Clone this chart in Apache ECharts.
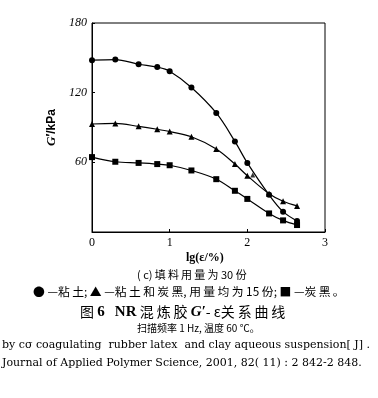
<!DOCTYPE html>
<html><head><meta charset="utf-8">
<script src="https://cdn.jsdelivr.net/npm/echarts@6/dist/echarts.min.js"></script>
<style>html,body{margin:0;padding:0;background:#fff}#c{width:378px;height:398px}</style>
</head><body><div id="c"></div>
<script>
const strain = [0, 0.3, 0.6, 0.84, 1.0, 1.28, 1.6, 1.84, 2.0, 2.28, 2.46, 2.64];
const clay = [148, 148.5, 144.5, 142, 138.5, 124.5, 102.5, 78, 59.5, 32, 17.5, 9.5];
const clayBlack = [93, 93.5, 91, 88.5, 86.5, 82, 71.5, 58.5, 48.5, 33, 26.5, 22.5];
const carbonBlack = [64.5, 60.5, 59.5, 58.5, 57.5, 53, 45.5, 35.5, 28.5, 16, 10, 6];
const strayX = [2.07];
const strayY = [49];
const xTicks = [0, 1, 2, 3];
const yTicks = [60, 120, 180];

const pair = (xs, ys) => xs.map((x, i) => [x, ys[i]]);
const serif = '"Liberation Serif", "DejaVu Serif", serif';
const wideSerif = '"DejaVu Serif", serif';
const cjk = '"Noto Sans CJK SC", sans-serif';
const T = '\u2009';

const chart = echarts.init(document.getElementById('c'), null, {renderer: 'canvas'});
const lineSeries = (data, symbol, size) => ({
  type: 'line', data, smooth: 0.35, symbol, symbolSize: size,
  lineStyle: {color: '#000', width: 1.2}, itemStyle: {color: '#000'},
  animation: false, z: 3
});
chart.setOption({
  backgroundColor: '#fff',
  animation: false,
  grid: {left: 92, right: 53, top: 23, bottom: 166, show: true, borderColor: '#000', borderWidth: 1},
  xAxis: {
    type: 'value', min: 0, max: 3, interval: 1,
    axisLine: {lineStyle: {color: '#000', width: 1}},
    axisTick: {inside: true, length: 3, lineStyle: {color: '#000'}},
    axisLabel: {color: '#000', fontFamily: serif, fontSize: 12, margin: 5,
      formatter: v => xTicks.includes(v) ? String(v) : ''},
    splitLine: {show: false}
  },
  yAxis: {
    type: 'value', min: 0, max: 180, interval: 60,
    axisLine: {lineStyle: {color: '#000', width: 1}},
    axisTick: {inside: true, length: 3, lineStyle: {color: '#000'}},
    axisLabel: {color: '#000', fontFamily: serif, fontSize: 12, fontStyle: 'italic', margin: 5,
      formatter: v => yTicks.includes(v) ? String(v) : ''},
    splitLine: {show: false},
    name: "{i|G}′/kPa", nameLocation: 'middle', nameGap: 26, nameRotate: 90,
    nameTextStyle: {color: '#000', fontFamily: '"Liberation Sans", Arial, sans-serif', fontSize: 12, fontWeight: 'bold',
      rich: {i: {fontStyle: 'italic', fontFamily: serif, fontSize: 13, fontWeight: 'bold'}}}
  },
  series: [
    lineSeries(pair(strain, clay), 'circle', 6),
    lineSeries(pair(strain, clayBlack), 'triangle', 6),
    lineSeries(pair(strain, carbonBlack), 'rect', 6),
    {type: 'scatter', data: pair(strayX, strayY), symbol: 'triangle', symbolSize: 5, itemStyle: {color: '#000'}, z: 4}
  ],
  graphic: [
    {type: 'text', left: 186, top: 252, style: {text: 'lg(ε/%)', font: 'bold 12px ' + serif, fill: '#000'}},
    {type: 'text', left: 137, top: 269, style: {text: '( c)' + T + '填' + T + '料' + T + '用' + T + '量' + T + '为 30 份', font: '11px ' + cjk, fill: '#000'}},
    {type: 'text', left: 33, top: 286, style: {text: '● —粘' + T + '土; ▲ —粘' + T + '土' + T + '和' + T + '炭' + T + '黑, 用' + T + '量' + T + '均' + T + '为 15 份; ■ —炭' + T + '黑' + T + '。', font: '11.8px ' + cjk, fill: '#000'}},
    {type: 'text', left: 80, top: 303, style: {
      text: '{c|图} {b|6}   {s|NR} {c|混' + T + '炼' + T + '胶} {g|G′}{c|- ε关' + T + '系' + T + '曲' + T + '线}',
      rich: {
        b: {fontFamily: serif, fontSize: 15, fontWeight: 'bold', fill: '#000', lineHeight: 18, height: 18, verticalAlign: 'bottom'},
        s: {fontFamily: serif, fontSize: 15, fontWeight: 'bold', fill: '#000', lineHeight: 18, height: 18, verticalAlign: 'bottom'},
        c: {fontFamily: cjk, fontSize: 14, fill: '#000', lineHeight: 18, height: 18, verticalAlign: 'bottom'},
        g: {fontFamily: serif, fontSize: 15, fontWeight: 'bold', fontStyle: 'italic', fill: '#000', lineHeight: 18, height: 18, verticalAlign: 'bottom'}
      }}},
    {type: 'text', left: 137, top: 323, style: {text: '扫描频率 1 Hz, 温度 60 ℃。', font: '10px ' + cjk, fill: '#000'}},
    {type: 'text', left: 2, top: 340, style: {text: 'by cσ coagulating  rubber latex  and clay aqueous suspension[ J] .', font: '11px ' + wideSerif, fill: '#000'}},
    {type: 'text', left: 2, top: 358, style: {text: 'Journal of Applied Polymer Science, 2001, 82( 11) : 2 842-2 848.', font: '11px ' + wideSerif, fill: '#000'}}
  ]
});
</script></body></html>
